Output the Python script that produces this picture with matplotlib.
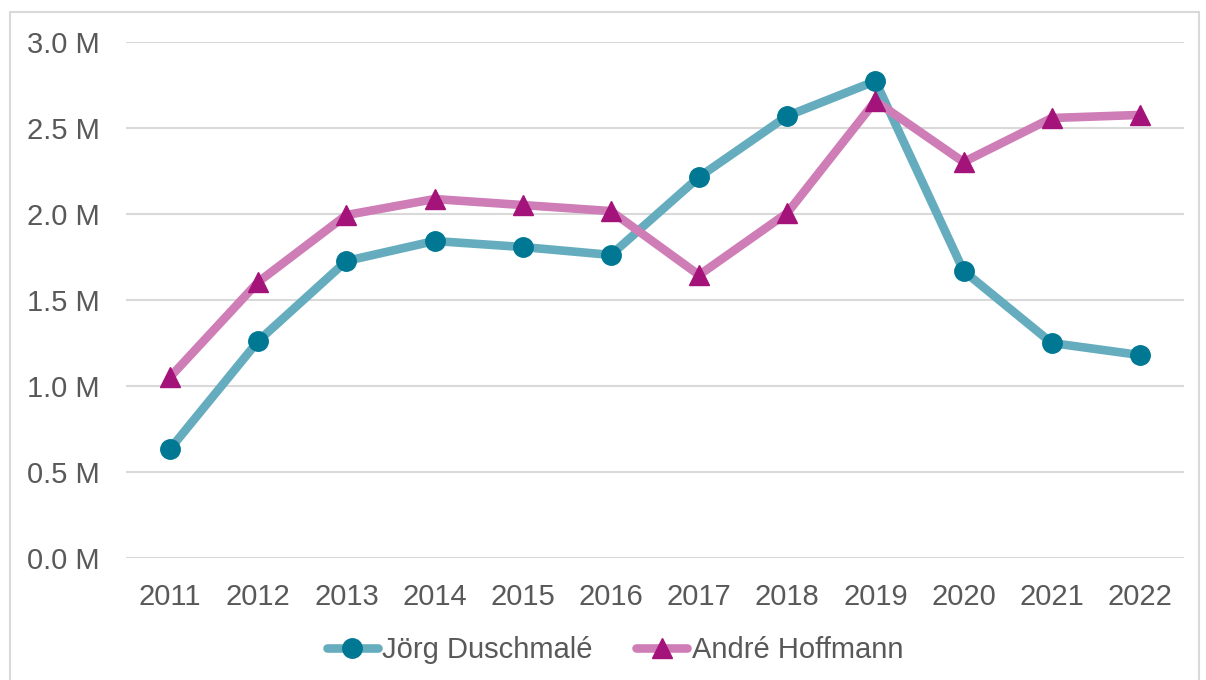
import numpy as np
import matplotlib
matplotlib.use("Agg")
from matplotlib import pyplot as plt
from matplotlib.patches import Rectangle
from matplotlib.ticker import FuncFormatter

years = [str(y) for y in range(2011, 2023)]
joerg = [0.634, 1.262, 1.727, 1.843, 1.808, 1.762, 2.215, 2.570, 2.773, 1.669, 1.250, 1.180]
andre = [1.052, 1.605, 1.994, 2.087, 2.052, 2.017, 1.645, 2.006, 2.657, 2.302, 2.558, 2.576]

plt.rcParams['font.family'] = ['Liberation Sans', 'DejaVu Sans']
text_color = '#595959'

fig = plt.figure(figsize=(12.06, 6.80), dpi=100)
ax = fig.add_axes([126 / 1206, 1 - 558 / 680, (1184 - 126) / 1206, (558 - 42) / 680])

x = np.arange(len(years))
ax.plot(x, joerg, color='#65ADBE', linewidth=6.2, solid_capstyle='round',
        marker='o', markersize=14, markerfacecolor='#007893', markeredgecolor='#007893',
        label='Jörg Duschmalé', zorder=3)
ax.plot(x, andre, color='#CE7DB6', linewidth=6.2, solid_capstyle='round',
        marker='^', markersize=15, markerfacecolor='#A4137A', markeredgecolor='#A4137A',
        label='André Hoffmann', zorder=3)

ax.set_xlim(-0.5, len(years) - 0.5)
ax.set_ylim(0, 3.0)
ax.set_yticks(np.arange(0, 3.01, 0.5))
ax.yaxis.set_major_formatter(FuncFormatter(lambda v, p: f'{v:.1f} M'))
ax.set_xticks(x)
ax.set_xticklabels(years)

ax.grid(axis='y', color='#D9D9D9', linewidth=1.5)
ax.set_axisbelow(True)
for s in ax.spines.values():
    s.set_visible(False)
ax.tick_params(length=0, labelsize=21, colors=text_color)
ax.tick_params(axis='x', pad=18)
ax.tick_params(axis='y', pad=19)

leg = fig.legend(loc='center', bbox_to_anchor=(0.5 + 12 / 1206, 1 - 650 / 680), ncol=2,
                 frameon=False, fontsize=21, handlelength=1.75, handletextpad=0.15,
                 columnspacing=1.5)
for t in leg.get_texts():
    t.set_color(text_color)

# frame around the chart
fig.patches.append(Rectangle((10 / 1206, -0.05), 1189 / 1206, 1.05 - 12 / 680,
                             transform=fig.transFigure, fill=False,
                             edgecolor='#D9D9D9', linewidth=1.5))

plt.savefig("out.png")
plt.close(fig)
